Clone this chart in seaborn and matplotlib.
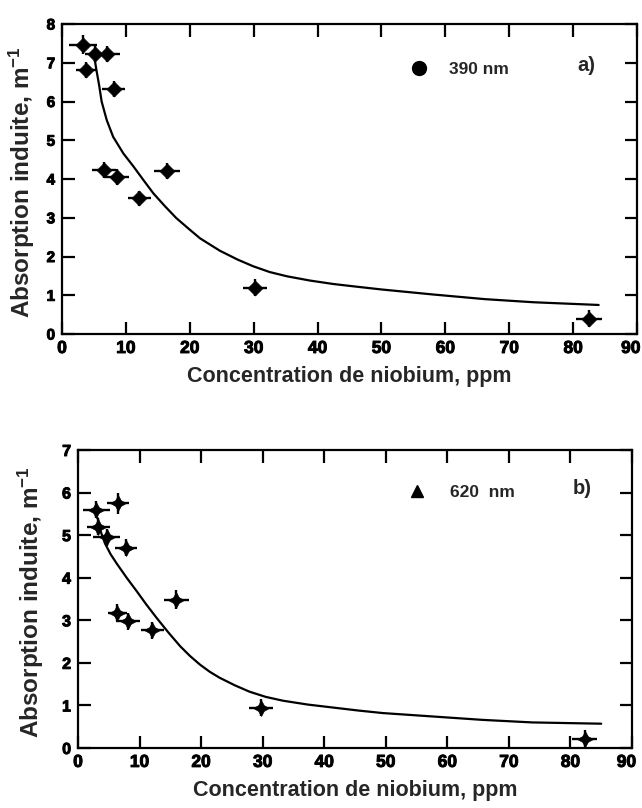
import matplotlib
matplotlib.use("Agg")
import matplotlib.pyplot as plt
import matplotlib.patheffects as pe
from matplotlib.lines import Line2D
from matplotlib.markers import MarkerStyle
from matplotlib.transforms import ScaledTranslation
import seaborn as sns

# --- 390 nm: induced absorption vs niobium content ---
conc_390 = [3.3, 3.75, 5.1, 7.0, 8.1, 6.6, 8.6, 12.1, 16.4, 30.2, 82.5]
abs_390 = [7.47, 6.82, 7.22, 7.22, 6.32, 4.23, 4.05, 3.50, 4.21, 1.19, 0.39]
xerr_390 = [2.2, 1.5, 1.5, 2.1, 1.8, 1.9, 1.9, 1.8, 2.0, 1.9, 2.0]
yerr_390 = [0.25, 0.21, 0.2, 0.2, 0.2, 0.2, 0.2, 0.2, 0.2, 0.22, 0.22]
fit_x_390 = [5.1, 5.4, 5.85, 6.2, 7.0, 8.0, 9.6, 11.2, 12.8, 14.3, 16.1, 17.9,
             19.8, 21.6, 24.7, 27.5, 29.9, 32.5, 35.2, 38.8, 42.5, 46.2, 50.0,
             58.1, 66.2, 73.8, 84.0]
fit_y_390 = [7.1, 6.8, 6.38, 6.0, 5.52, 5.09, 4.66, 4.32, 3.96, 3.63, 3.30, 2.99,
             2.72, 2.47, 2.15, 1.92, 1.75, 1.60, 1.49, 1.38, 1.29, 1.22, 1.15,
             1.02, 0.90, 0.82, 0.75]

# --- 620 nm ---
conc_620 = [3.0, 6.5, 3.3, 4.65, 7.8, 6.4, 8.1, 12.1, 16.0, 29.7, 82.3]
abs_620 = [5.60, 5.75, 5.20, 4.95, 4.70, 3.18, 2.98, 2.77, 3.48, 0.95, 0.22]
xerr_620 = [2.2, 1.8, 1.9, 2.2, 1.8, 1.6, 1.9, 1.9, 2.0, 1.9, 2.0]
yerr_620 = [0.2, 0.25, 0.2, 0.2, 0.2, 0.2, 0.2, 0.2, 0.22, 0.2, 0.2]
fit_x_620 = [3.2, 3.6, 4.4, 5.3, 6.3, 7.9, 9.5, 11.1, 12.8, 14.7, 16.6, 18.2,
             19.8, 21.4, 23.0, 25.5, 27.9, 30.5, 33.3, 37.3, 41.4, 45.5, 49.5,
             57.6, 65.7, 73.8, 85.0]
fit_y_620 = [5.4, 5.12, 4.8, 4.55, 4.33, 4.0, 3.69, 3.37, 3.05, 2.71, 2.39, 2.16,
             1.96, 1.79, 1.65, 1.47, 1.32, 1.20, 1.11, 1.02, 0.95, 0.88, 0.82,
             0.74, 0.66, 0.60, 0.57]

x_ticks = list(range(0, 91, 10))
x_label = "Concentration de niobium, ppm"
y_label = "Absorption induite, m$^{-1}$"

sns.set_theme(style="ticks")
plt.rcParams["font.family"] = ["Liberation Sans", "DejaVu Sans"]
plt.rcParams["font.weight"] = "bold"
plt.rcParams["mathtext.fontset"] = "custom"
plt.rcParams["mathtext.rm"] = "Liberation Sans:bold"
plt.rcParams["mathtext.default"] = "rm"

fig = plt.figure(figsize=(6.42, 8.08), dpi=100)
fig.patch.set_facecolor("white")

ax_a = fig.add_axes([0.0966, 0.5866, 0.8956, 0.3837])
ax_b = fig.add_axes([0.1215, 0.0743, 0.8629, 0.3688])

star4 = MarkerStyle((4, 1, 0))
heavy = [pe.withStroke(linewidth=0.7, foreground="black")]


def draw_panel(ax, conc, absorb, xerr, yerr, fx, fy, marker, msize,
               ymax, ytick_size, leg_marker, leg_ms, leg_text, leg_xy,
               leg_pad, tag, tag_xy, xlab_y, ylab_x, last_shift):
    sns.lineplot(x=fx, y=fy, ax=ax, color="black", linewidth=1.6,
                 sort=False, estimator=None)
    ax.errorbar(conc, absorb, xerr=xerr, yerr=yerr, fmt="none",
                ecolor="black", elinewidth=1.7, capsize=0, zorder=3)
    sns.scatterplot(x=conc, y=absorb, ax=ax, marker=marker, s=msize,
                    color="black", edgecolor="black", linewidth=0.5,
                    zorder=4)

    ax.set_xlim(0, 90)
    ax.set_ylim(0, ymax)
    ax.set_xticks(x_ticks)
    ax.set_yticks(list(range(0, ymax + 1)))
    ax.set_facecolor("white")
    for sp in ax.spines.values():
        sp.set_visible(True)
        sp.set_linewidth(1.6)
        sp.set_color("black")
    ax.tick_params(axis="both", direction="in", length=9, width=1.6,
                   top=True, right=True, colors="black")
    ax.tick_params(axis="x", labelsize=12.5, pad=5)
    ax.tick_params(axis="y", labelsize=ytick_size, pad=5)
    for lbl in ax.get_xticklabels() + ax.get_yticklabels():
        lbl.set_path_effects(heavy)

    # the right-most x label sits a little inside the frame edge
    last = ax.xaxis.get_major_ticks()[-1].label1
    last.set_transform(last.get_transform()
                       + ScaledTranslation(last_shift / 72, 0,
                                           fig.dpi_scale_trans))

    ax.set_xlabel(x_label, fontsize=15.5, fontweight="bold")
    ax.set_ylabel(y_label, fontsize=17.5, fontweight="bold")
    ax.xaxis.set_label_coords(0.5, xlab_y)
    ax.yaxis.set_label_coords(ylab_x, 0.49)

    handle = Line2D([], [], marker=leg_marker, linestyle="none",
                    color="black", markersize=leg_ms)
    ax.legend(handles=[handle], labels=[leg_text], loc="center left",
              bbox_to_anchor=leg_xy, frameon=False, handlelength=1.0,
              handletextpad=leg_pad, borderaxespad=0, borderpad=0,
              prop={"weight": "bold", "size": 12.5})
    ax.text(tag_xy[0], tag_xy[1], tag, transform=ax.transAxes,
            fontsize=14.5, fontweight="bold", ha="left", va="center")


draw_panel(ax_a, conc_390, abs_390, xerr_390, yerr_390, fit_x_390, fit_y_390,
           "D", 58, 8, 11, "o", 10, "390 nm", (0.605, 0.852), 1.25,
           "a)", (0.896, 0.865), -0.103, -0.043, -4.5)

draw_panel(ax_b, conc_620, abs_620, xerr_620, yerr_620, fit_x_620, fit_y_620,
           star4, 130, 7, 11.5, "^", 8.5, "620  nm", (0.596, 0.856), 1.4,
           "b)", (0.893, 0.872), -0.107, -0.058, -4.0)

fig.savefig("out.png", dpi=100, facecolor="white")
